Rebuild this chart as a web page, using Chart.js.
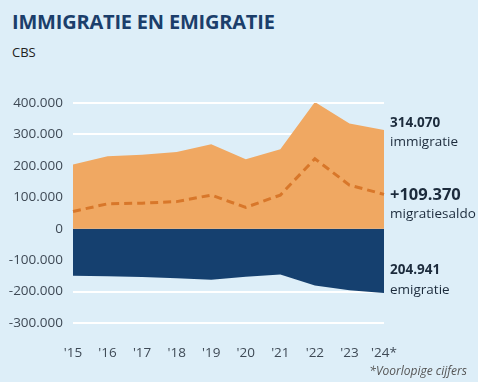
<!DOCTYPE html>
<html>
<head>
<meta charset="utf-8">
<script src="https://cdn.jsdelivr.net/npm/chart.js@4"></script>
<style>
  html, body { margin: 0; padding: 0; background: #ddeef8; }
  #wrap { position: relative; width: 478px; height: 382px; overflow: hidden; }
  #title { position: absolute; left: 12px; top: 8px; font: bold 20px "Open Sans", sans-serif; color: #1b3e6b; letter-spacing: -0.2px; }
  #source { position: absolute; left: 12px; top: 43px; font: 13px "Open Sans", sans-serif; color: #222; }
  #note { position: absolute; right: 11px; top: 362px; font: italic 12px "Open Sans", sans-serif; color: #555; }
  canvas { position: absolute; left: 0; top: 0; }
</style>
</head>
<body>
<div id="wrap">
  <div id="title">IMMIGRATIE EN EMIGRATIE</div>
  <div id="source">CBS</div>
  <canvas id="myChart" width="478" height="382"></canvas>
  <div id="note">*Voorlopige cijfers</div>
</div>
<script>
const years = ["'15", "'16", "'17", "'18", "'19", "'20", "'21", "'22", "'23", "'24*"];
const immigration = [204615, 230739, 234957, 243737, 269064, 220853, 252533, 403108, 334799, 314070];
const emigration = [-149600, -151500, -153600, -157500, -162000, -152900, -145500, -180500, -196000, -204941];
const balance = [55000, 79200, 81400, 86200, 107000, 67900, 107000, 222600, 138800, 109370];
const yTicks = [400000, 300000, 200000, 100000, 0, -100000, -200000, -300000];

const fmt = v => {
  const s = Math.abs(v).toString().replace(/\B(?=(\d{3})+(?!\d))/g, '.');
  return (v < 0 ? '-' : '') + s;
};

// labels on the right side, anchored to the last values
const sideLabels = {
  id: 'sideLabels',
  afterDraw(chart) {
    const ctx = chart.ctx;
    const y = chart.scales.y;
    const x = chart.chartArea.right + 6;
    const n = years.length - 1;
    const items = [
      [y.getPixelForValue(immigration[n]) - 7, fmt(immigration[n]), 'bold 13.5px "Open Sans"'],
      [y.getPixelForValue(immigration[n]) + 12, 'immigratie', '13.5px "Open Sans"'],
      [y.getPixelForValue(balance[n]) + 1, '+' + fmt(balance[n]), 'bold 16.5px "Open Sans"'],
      [y.getPixelForValue(balance[n]) + 20, 'migratiesaldo', '13.5px "Open Sans"'],
      [y.getPixelForValue(emigration[n]) - 23, fmt(-emigration[n]), 'bold 13.5px "Open Sans"'],
      [y.getPixelForValue(emigration[n]) - 3, 'emigratie', '13.5px "Open Sans"'],
    ];
    ctx.save();
    ctx.fillStyle = '#1c2b3c';
    ctx.textBaseline = 'middle';
    ctx.textAlign = 'left';
    items.forEach(([py, text, font]) => {
      ctx.font = font;
      ctx.fillText(text, x, py);
    });
    ctx.restore();
  }
};

const ctx = document.getElementById('myChart').getContext('2d');
const myChart = new Chart(ctx, {
  type: 'line',
  data: {
    labels: years,
    datasets: [
      {
        label: 'migratiesaldo',
        data: balance,
        borderColor: '#d8772a',
        borderWidth: 3,
        borderDash: [8, 5],
        pointRadius: 0,
        fill: false,
        tension: 0,
      },
      {
        label: 'immigratie',
        data: immigration,
        backgroundColor: '#f0a862',
        borderWidth: 0,
        pointRadius: 0,
        fill: 'origin',
        tension: 0,
      },
      {
        label: 'emigratie',
        data: emigration,
        backgroundColor: '#15406f',
        borderWidth: 0,
        pointRadius: 0,
        fill: 'origin',
        tension: 0,
      },
    ],
  },
  options: {
    responsive: false,
    animation: false,
    layout: { padding: { top: 103, right: 94, bottom: 0, left: 0 } },
    plugins: {
      legend: { display: false },
      tooltip: { enabled: false },
    },
    scales: {
      x: {
        offset: false,
        afterFit: scale => { scale.height = 59; },
        grid: { display: false },
        border: { display: false },
        ticks: {
          padding: 14,
          color: '#3f4a56',
          font: { family: 'Open Sans', size: 13.5 },
          maxRotation: 0,
          autoSkip: false,
        },
      },
      y: {
        min: -300000,
        max: 400000,
        afterFit: scale => { scale.width = 73; },
        afterBuildTicks: scale => { scale.ticks = yTicks.map(v => ({ value: v })); },
        grid: { color: '#ffffff', lineWidth: 2, drawTicks: false },
        border: { display: false },
        ticks: {
          padding: 10,
          color: '#3f4a56',
          font: { family: 'Open Sans', size: 13.5 },
          callback: v => fmt(v),
        },
      },
    },
  },
  plugins: [sideLabels],
});
</script>
</body>
</html>
